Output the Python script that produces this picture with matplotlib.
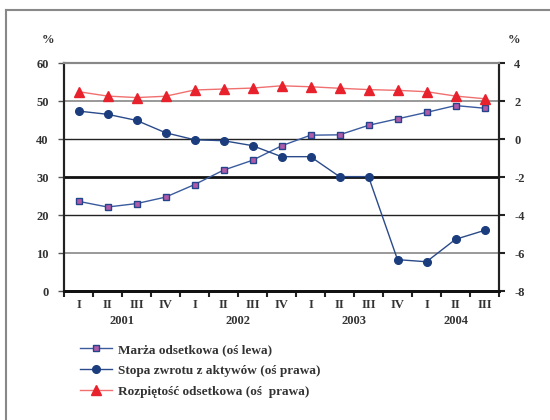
import matplotlib.pyplot as plt
from matplotlib.lines import Line2D
from matplotlib.ticker import FixedLocator, NullFormatter, FixedFormatter

plt.rcParams['font.family'] = ['Liberation Serif', 'DejaVu Serif']
plt.rcParams['font.weight'] = 'bold'
plt.rcParams['axes.unicode_minus'] = False

quarters = ["I", "II", "III", "IV", "I", "II", "III", "IV",
            "I", "II", "III", "IV", "I", "II", "III"]
years = ["2001", "2002", "2003", "2004"]
year_pos = [1.5, 5.5, 9.5, 13.0]

marza = [23.6, 22.1, 23.0, 24.7, 28.0, 31.8, 34.4, 38.2,
         41.0, 41.1, 43.6, 45.3, 47.0, 48.8, 48.1]
stopa = [1.47, 1.30, 0.98, 0.33, -0.04, -0.09, -0.35, -0.93,
         -0.93, -1.98, -1.98, -6.35, -6.46, -5.28, -4.81]
rozpietosc = [2.49, 2.26, 2.18, 2.25, 2.58, 2.63, 2.68, 2.80,
              2.75, 2.67, 2.60, 2.56, 2.49, 2.26, 2.12]

labels = ["Marża odsetkowa (oś lewa)",
          "Stopa zwrotu z aktywów (oś prawa)",
          "Rozpiętość odsetkowa (oś  prawa)"]

fig = plt.figure(figsize=(5.5, 4.2), dpi=100)
ax = fig.add_axes([64/550, 1-291/420, 435/550, 228/420])
ax2 = ax.twinx()

x = list(range(len(quarters)))

# grid lines
for val, col, lw in [(50, '#888888', 1.2), (40, '#222222', 1.0), (30, '#111111', 2.0),
                     (20, '#222222', 1.0), (10, '#888888', 1.2)]:
    ax.axhline(val, color=col, lw=lw, zorder=1)

l1, = ax.plot(x, marza, color='#3a5b9e', lw=1, marker='s', ms=4,
              mfc='#b05aa8', mec='#23438a', mew=1, zorder=3)
l2, = ax2.plot(x, stopa, color='#2a4a8a', lw=1, marker='o', ms=5.5,
               mfc='#1b3d7e', mec='#1b3d7e', zorder=3)
l3, = ax2.plot(x, rozpietosc, color='#f07070', lw=1, marker='^', ms=6.5,
               mfc='#e8222c', mec='#e8222c', zorder=3)

ax.set_xlim(-0.5, 14.5)
ax.set_ylim(0, 60)
ax2.set_ylim(-8, 4)
ax.set_yticks(range(0, 61, 10))
ax2.set_yticks(range(-8, 5, 2))

ax.xaxis.set_major_locator(FixedLocator([i - 0.5 for i in range(16)]))
ax.xaxis.set_major_formatter(NullFormatter())
ax.xaxis.set_minor_locator(FixedLocator(x))
ax.xaxis.set_minor_formatter(FixedFormatter(quarters))
ax.tick_params(axis='x', which='major', length=4, width=1.5, color='#222222')
ax.tick_params(axis='x', which='minor', length=0, pad=6, labelsize=9)
ax.tick_params(axis='y', length=4, width=1, color='#555555', labelsize=9, pad=7)
ax2.tick_params(axis='y', length=4, width=1.5, color='#222222', labelsize=9, pad=7)

for a in (ax, ax2):
    a.spines['top'].set_color('#888888')
    a.spines['top'].set_linewidth(1.5)
    a.spines['left'].set_color('#222222')
    a.spines['left'].set_linewidth(1.5)
    a.spines['right'].set_color('#222222')
    a.spines['right'].set_linewidth(1.5)
    a.spines['bottom'].set_color('#111111')
    a.spines['bottom'].set_linewidth(2)

for tl in ax.get_yticklabels() + ax2.get_yticklabels() + ax.get_xticklabels(minor=True):
    tl.set_color('#333333')

for yp, yr in zip(year_pos, years):
    ax.text(yp, -0.13, yr, transform=ax.get_xaxis_transform(), ha='center', va='center',
            fontsize=9, color='#333333')

fig.text(48/550, 1-40/420, '%', ha='center', va='center', fontsize=9, color='#333333')
fig.text(514/550, 1-40/420, '%', ha='center', va='center', fontsize=9, color='#333333')

fig.legend([l1, l2, l3], labels, loc='upper left', bbox_to_anchor=(68/550, 1-332/420),
           frameon=False, fontsize=9.5, handlelength=2.4, labelspacing=0.65,
           handletextpad=0.5, labelcolor='#333333')

# outer frame (left and top)
fig.add_artist(Line2D([6/550, 6/550], [0, 1-10/420], color='#888888', lw=1.5))
fig.add_artist(Line2D([6/550, 1], [1-10/420, 1-10/420], color='#888888', lw=1.5))

fig.savefig('out.png', dpi=100)
